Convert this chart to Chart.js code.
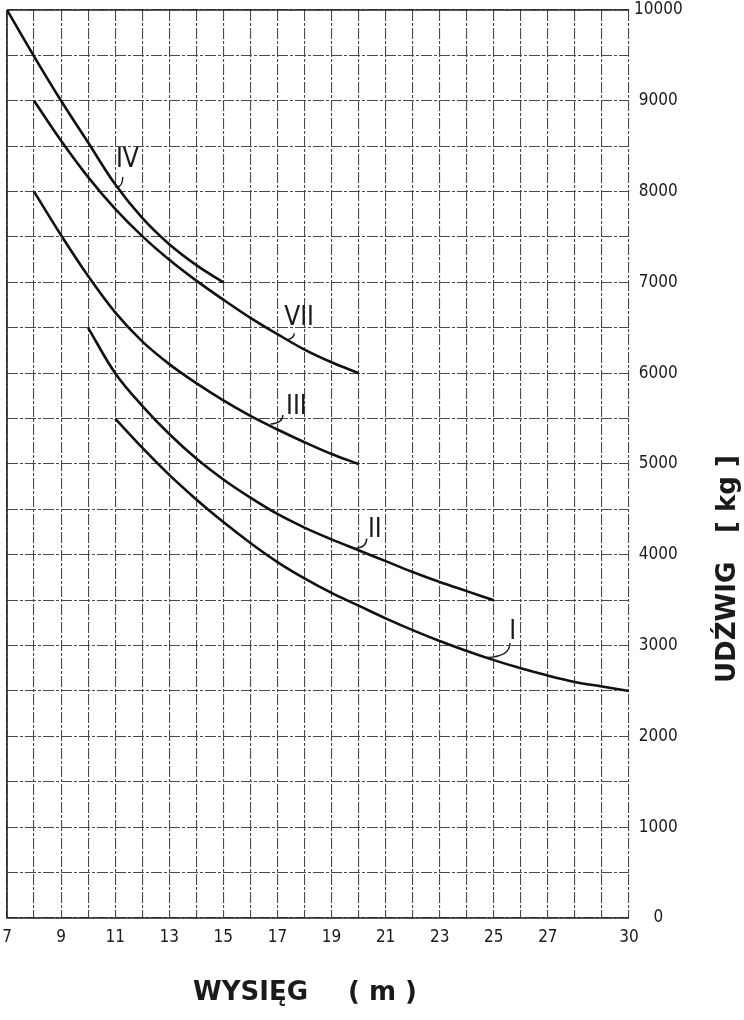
<!DOCTYPE html>
<html><head><meta charset="utf-8">
<script src="https://cdn.jsdelivr.net/npm/chart.js@4"></script>
<style>html,body{margin:0;padding:0;background:#fff;}#wrap{width:744px;height:1020px;position:relative;}</style>
</head><body><div id="wrap"><canvas id="c" width="744" height="1020"></canvas></div>
<script>
// ---- data ----
const xGridValues = [7,8,9,10,11,12,13,14,15,16,17,18,19,20,21,22,23,24,25,26,27,28,29,30];
const xTickLabels = [7,9,11,13,15,17,19,21,23,25,27,30];
const yGridValues = [0,500,1000,1500,2000,2500,3000,3500,4000,4500,5000,5500,6000,6500,7000,7500,8000,8500,9000,9500,10000];
const yTickLabels = [0,1000,2000,3000,4000,5000,6000,7000,8000,9000,10000];

const xIV  = [7,8,9,10,11,12,13,14,15];
const yIV  = [10000,9490,9000,8540,8080,7710,7420,7190,7000];
const xVII = [8,9,10,11,12,13,14,15,16,17,18,19,20];
const yVII = [9000,8560,8160,7810,7510,7250,7020,6810,6610,6430,6260,6120,6000];
const xIII = [8,9,10,11,12,13,14,15,16,17,18,19,20];
const yIII = [8000,7520,7070,6670,6350,6100,5890,5700,5530,5380,5240,5110,5000];
const xII  = [10,11,12,13,14,15,16,17,18,19,20,21,22,23,24,25];
const yII  = [6500,6000,5640,5330,5060,4830,4630,4450,4300,4170,4050,3930,3810,3700,3600,3500];
const xI   = [11,12,13,14,15,16,17,18,19,20,21,22,23,24,25,26,27,28,29,30];
const yI   = [5500,5180,4880,4610,4360,4130,3920,3740,3580,3440,3300,3170,3050,2940,2840,2750,2670,2600,2550,2500];

const seriesNames = ['IV','VII','III','II','I'];
const seriesX = [xIV,xVII,xIII,xII,xI];
const seriesY = [yIV,yVII,yIII,yII,yI];

// label anchors in data units: [textX, textY, leaderFromX, leaderFromY, leaderToX, leaderToY]
const labelPlacement = {
  'IV':  [11.45, 8340, 11.28, 8160, 11.08, 8050],
  'VII': [17.8, 6610, 17.62, 6440, 17.35, 6370],
  'III': [17.7, 5620, 17.2, 5540, 16.75, 5440],
  'II':  [20.6, 4270, 20.3, 4180, 19.88, 4070],
  'I':   [25.7, 3150, 25.6, 3030, 24.75, 2870]
};

const tickFont = {family: "'DejaVu Sans Condensed','Liberation Sans Narrow',sans-serif", size: 17};
const gridColor = '#4a4a4a';

const datasets = seriesNames.map((n,i)=>({
  label: n,
  data: seriesX[i].map((x,j)=>({x:x, y:seriesY[i][j]})),
  borderColor: '#111',
  borderWidth: 2.6,
  pointRadius: 0,
  fill: false,
  tension: 0.35
}));

const decoPlugin = {
  id: 'deco',
  beforeDatasetsDraw(chart){
    const {ctx, chartArea:a} = chart;
    ctx.save();
    ctx.strokeStyle = '#222';
    ctx.lineWidth = 1.6;
    ctx.beginPath();
    ctx.moveTo(a.left, a.top); ctx.lineTo(a.left, a.bottom); ctx.lineTo(a.right, a.bottom);
    ctx.moveTo(a.left, a.top); ctx.lineTo(a.right, a.top);
    ctx.stroke();
    ctx.restore();
  },
  afterDatasetsDraw(chart){
    const {ctx, scales} = chart;
    const sx = scales.x, sy = scales.y;
    ctx.save();
    ctx.fillStyle = '#1a1a1a';
    ctx.strokeStyle = '#1a1a1a';
    ctx.lineWidth = 1.4;
    ctx.font = "26px 'Liberation Sans Narrow','DejaVu Sans Condensed',sans-serif";
    ctx.textAlign = 'center';
    ctx.textBaseline = 'middle';
    seriesNames.forEach(n=>{
      const p = labelPlacement[n];
      ctx.fillText(n, sx.getPixelForValue(p[0]), sy.getPixelForValue(p[1]));
      const fx = sx.getPixelForValue(p[2]), fy = sy.getPixelForValue(p[3]);
      const tx = sx.getPixelForValue(p[4]), ty = sy.getPixelForValue(p[5]);
      ctx.beginPath();
      ctx.moveTo(fx, fy);
      ctx.quadraticCurveTo(fx, ty - 1, tx, ty);
      ctx.stroke();
    });
    ctx.restore();
  },
  afterDraw(chart){
    const {ctx} = chart;
    ctx.save();
    ctx.fillStyle = '#1a1a1a';
    ctx.font = "bold 26px 'DejaVu Sans',sans-serif";
    ctx.textBaseline = 'alphabetic';
    ctx.textAlign = 'left';
    ctx.fillText('WYSIĘG', 193, 1000);
    ctx.fillText('( m )', 348, 1000);
    ctx.translate(735, 683);
    ctx.rotate(-Math.PI/2);
    ctx.fillText('UDŹWIG', 0, 0);
    ctx.fillText('[ kg ]', 150, 0);
    ctx.restore();
  }
};

new Chart(document.getElementById('c'), {
  type: 'line',
  data: { datasets },
  options: {
    responsive: false,
    animation: false,
    devicePixelRatio: 1,
    layout: { padding: { left: 7, top: 10, right: 0, bottom: 0 } },
    plugins: { legend: { display: false }, tooltip: { enabled: false }, title: { display: false } },
    scales: {
      x: {
        type: 'linear', position: 'bottom', min: 7, max: 30,
        afterBuildTicks: s => { s.ticks = xGridValues.map(v=>({value:v})); },
        afterFit: s => { s.height = 102; s.paddingLeft = 0; s.paddingRight = 0; },
        ticks: { autoSkip: false, maxRotation: 0, padding: 9, color: '#1a1a1a', font: tickFont,
          callback: v => xTickLabels.includes(v) ? String(v) : '' },
        grid: { color: gridColor, lineWidth: 1.1, drawTicks: false },
        border: { display: false, dash: [11,2,3,2] }
      },
      y: {
        type: 'linear', position: 'right', min: 0, max: 10000,
        afterBuildTicks: s => { s.ticks = yGridValues.map(v=>({value:v})); },
        afterFit: s => { s.width = 115; s.paddingTop = 0; s.paddingBottom = 0; },
        ticks: { autoSkip: false, padding: 5, crossAlign: 'center', color: '#1a1a1a', font: tickFont,
          callback: v => yTickLabels.includes(v) ? String(v) : '' },
        grid: { color: gridColor, lineWidth: 1.1, drawTicks: false },
        border: { display: false, dash: [11,2,3,2] }
      }
    }
  },
  plugins: [decoPlugin]
});
</script>
</body></html>
